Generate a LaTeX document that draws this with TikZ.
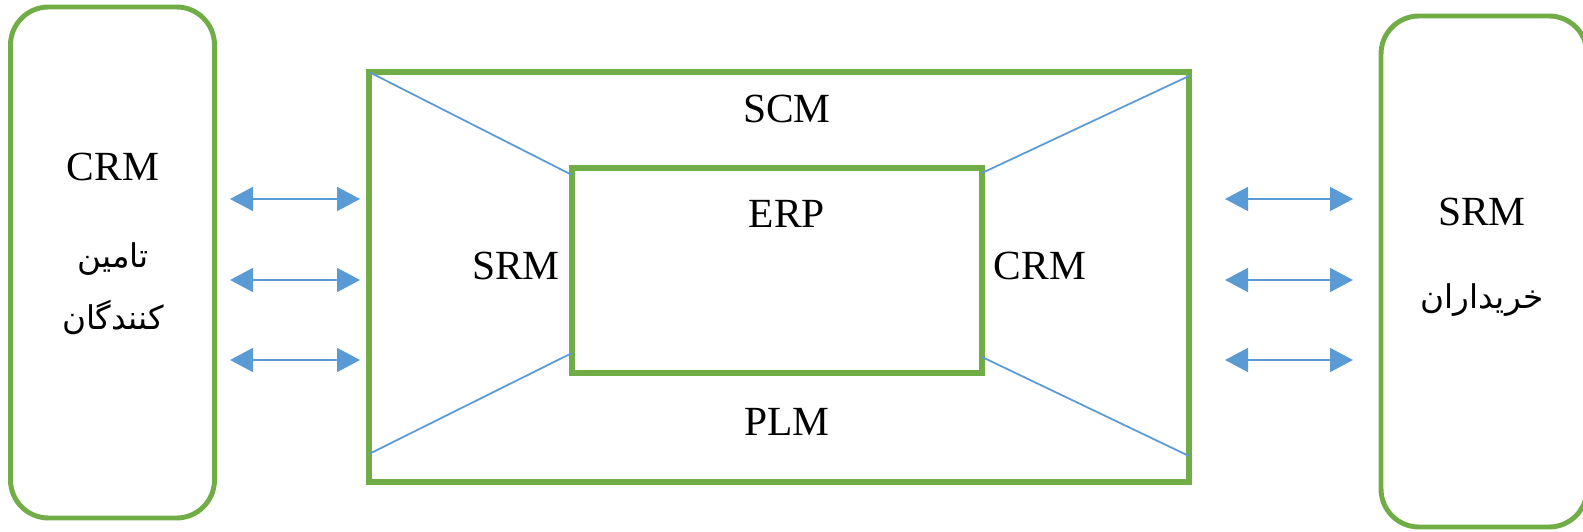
\documentclass[tikz,border=0pt]{standalone}
\usepackage{fontspec}
\setmainfont{Liberation Serif}
\newfontfamily\farsifont[Script=Arabic]{DejaVu Sans}
\TeXXeTstate=1
\usetikzlibrary{arrows.meta, positioning}
\definecolor{erpGreen}{RGB}{112,173,71}
\definecolor{erpBlue}{RGB}{91,155,213}

\begin{document}
\begin{tikzpicture}[
    party/.style={draw=erpGreen, line width=1.4pt, rounded corners=0.38cm, minimum height=5.11cm, inner sep=0pt, outer sep=0pt},
    frame/.style={draw=erpGreen, line width=1.5pt, inner sep=0pt, outer sep=0pt},
    tag/.style={font=\fontsize{11.8}{13}\selectfont, inner sep=0pt},
    fa/.style={font=\farsifont\fontsize{9.3}{12}\selectfont, inner sep=0pt},
    link/.style={draw=erpBlue, line width=0.5pt},
    flow/.style={{Triangle[length=0.23cm,width=0.24cm]}-{Triangle[length=0.23cm,width=0.24cm]}, draw=erpBlue, line width=0.5pt}
]
    \useasboundingbox (0,0) rectangle (15.83,5.31);

    % side boxes
    \node[party, minimum width=2.04cm] (suppliers) at (1.125,2.685) {};
    \node[party, minimum width=2.06cm] (buyers) at (14.84,2.595) {};
    \node[tag] (supcrm) at (1.13,3.64) {CRM};
    \node[fa] (supfa1) at (1.13,2.72) {\beginR تامین\endR};
    \node[fa] (supfa2) at (1.13,2.14) {\beginR کنندگان\endR};
    \node[tag] (buysrm) at (14.82,3.19) {SRM};
    \node[fa] (buyfa) at (14.82,2.31) {\beginR خریداران\endR};

    % middle frames
    \node[frame, minimum width=8.2cm, minimum height=4.1cm] (outer) at (7.79,2.54) {};
    \node[frame, minimum width=4.1cm, minimum height=2.05cm] (erp) at (7.77,2.605) {};
    \node[tag] (scm) at (7.87,4.22) {SCM};
    \node[tag] (erplbl) at (7.87,3.17) {ERP};
    \node[tag] (srm) at (5.16,2.65) {SRM};
    \node[tag] (crm) at (10.40,2.65) {CRM};
    \node[tag] (plm) at (7.87,1.09) {PLM};

    \draw[link] (outer.north west) -- ([yshift=-0.07cm]erp.north west);
    \draw[link] ([yshift=-0.04cm]outer.north east) -- ([yshift=-0.05cm]erp.north east);
    \draw[link] ([yshift=0.28cm]outer.south west) -- ([yshift=0.20cm]erp.south west);
    \draw[link] ([yshift=0.16cm]erp.south east) -- ([yshift=0.26cm]outer.south east);

    % arrows
    \foreach \row/\ypos in {1/3.32, 2/2.51, 3/1.71} {
        \coordinate (supA\row) at (2.30,\ypos);
        \coordinate (supB\row) at (3.60,\ypos);
        \coordinate (buyA\row) at (12.25,\ypos);
        \coordinate (buyB\row) at (13.53,\ypos);
        \draw[flow] (supA\row) -- (supB\row);
        \draw[flow] (buyA\row) -- (buyB\row);
    }
\end{tikzpicture}
\end{document}
